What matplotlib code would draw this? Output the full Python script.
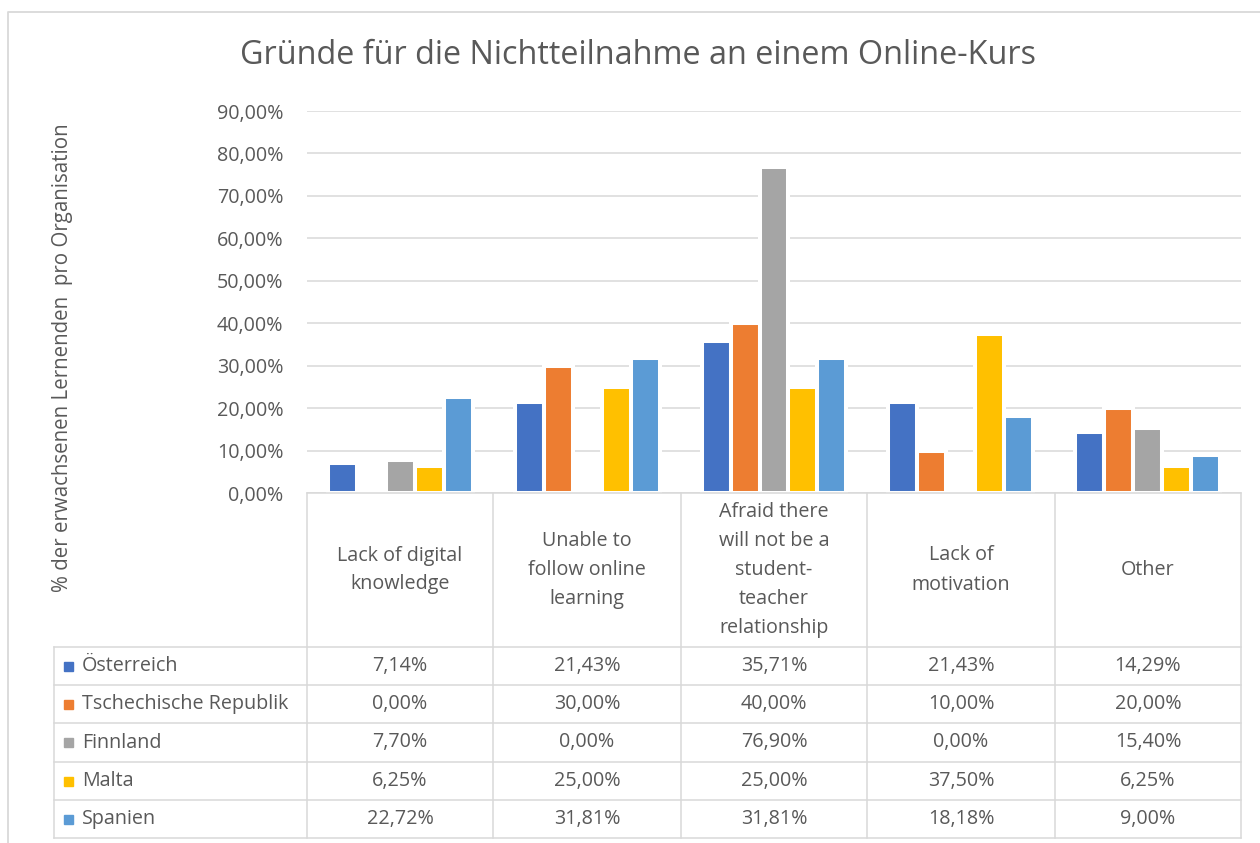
import matplotlib.pyplot as plt
from matplotlib.patches import Rectangle

categories = ['Lack of digital\nknowledge', 'Unable to\nfollow online\nlearning',
              'Afraid there\nwill not be a\nstudent-\nteacher\nrelationship',
              'Lack of\nmotivation', 'Other']
countries = ['Österreich', 'Tschechische Republik', 'Finnland', 'Malta', 'Spanien']
oesterreich = [7.14, 21.43, 35.71, 21.43, 14.29]
tschechien = [0.00, 30.00, 40.00, 10.00, 20.00]
finnland = [7.70, 0.00, 76.90, 0.00, 15.40]
malta = [6.25, 25.00, 25.00, 37.50, 6.25]
spanien = [22.72, 31.81, 31.81, 18.18, 9.00]
series = [oesterreich, tschechien, finnland, malta, spanien]
colors = ['#4472C4', '#ED7D31', '#A5A5A5', '#FFC000', '#5B9BD5']
yticks = [0, 10, 20, 30, 40, 50, 60, 70, 80, 90]

W, H = 1260, 843
txt = '#595959'
grid = '#D9D9D9'
fs = 14.2
plt.rcParams['font.family'] = ['Open Sans', 'DejaVu Sans']

def pct(v):
    return f'{v:.2f}%'.replace('.', ',')

fig = plt.figure(figsize=(W / 100, H / 100), dpi=100)

# plot area in pixel coords of the reference
left, right, top, bottom = 307, 1241, 111, 493
ax = fig.add_axes([left / W, 1 - bottom / H, (right - left) / W, (bottom - top) / H])
n = len(categories)
step = 0.155
for j, vals in enumerate(series):
    xs = [i + (j - 2) * step for i in range(n)]
    ax.bar(xs, vals, width=step, color=colors[j], edgecolor='white', linewidth=2.9, zorder=3)
ax.set_xlim(-0.5, n - 0.5)
ax.set_ylim(0, 90)
ax.set_yticks(yticks)
ax.set_yticklabels([pct(v) for v in yticks], color=txt, fontsize=fs)
ax.tick_params(axis='y', length=0, pad=17)
ax.set_xticks([])
ax.grid(axis='y', color=grid, linewidth=1.1, zorder=0)
for s in ax.spines.values():
    s.set_visible(False)

# overlay in pixel coordinates for the data table, title and frame
ov = fig.add_axes([0, 0, 1, 1])
ov.set_xlim(0, W)
ov.set_ylim(H, 0)
ov.axis('off')

ov.plot([8, 8, W + 5], [H + 5, 12, 12], color=grid, lw=1.3)

ov.text(638, 56, 'Gründe für die Nichtteilnahme an einem Online-Kurs',
        ha='center', va='center', fontsize=23.3, color=txt)
ov.text(63, 358, '% der erwachsenen Lernenden  pro Organisation', rotation=90,
        ha='center', va='center', fontsize=14.8, color=txt)

col_x = [307, 493, 681, 867, 1055, 1241]
row_y = [647, 685, 723, 762, 800, 838]
tl = 1.1
ov.plot([col_x[0], col_x[-1]], [493, 493], color=grid, lw=tl)
for x in col_x:
    ov.plot([x, x], [493, row_y[-1]], color=grid, lw=tl)
ov.plot([54, 54], [row_y[0], row_y[-1]], color=grid, lw=tl)
for y in row_y:
    ov.plot([54, col_x[-1]], [y, y], color=grid, lw=tl)

for i, cat in enumerate(categories):
    cx = (col_x[i] + col_x[i + 1]) / 2
    ov.text(cx, 570, cat, ha='center', va='center', fontsize=fs, color=txt,
            linespacing=1.6)

for j, name in enumerate(countries):
    cy = (row_y[j] + row_y[j + 1]) / 2
    ov.add_patch(Rectangle((64, cy - 4.5), 9, 9, color=colors[j]))
    ov.text(82, cy, name, ha='left', va='center', fontsize=fs, color=txt)
    for i in range(n):
        cx = (col_x[i] + col_x[i + 1]) / 2
        ov.text(cx, cy, pct(series[j][i]), ha='center', va='center',
                fontsize=fs, color=txt)

fig.savefig('out.png', dpi=100)
